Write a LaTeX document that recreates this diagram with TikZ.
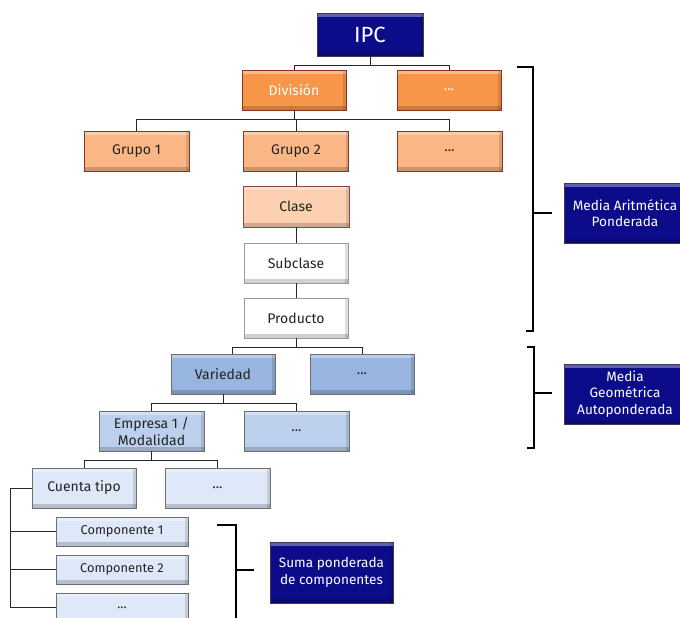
\documentclass[tikz,border=0pt]{standalone}
\usepackage{fontspec}
\setmainfont{Fira Sans}
\definecolor{navyc}{RGB}{12,12,138}
\definecolor{navyb}{RGB}{60,60,80}
\definecolor{orA}{RGB}{247,150,72}
\definecolor{orB}{RGB}{250,182,132}
\definecolor{orC}{RGB}{252,208,176}
\definecolor{orD}{RGB}{140,50,35}
\definecolor{blA}{RGB}{151,181,222}
\definecolor{blB}{RGB}{188,208,238}
\definecolor{blC}{RGB}{222,232,248}
\definecolor{grb}{RGB}{110,110,110}
\definecolor{txt}{RGB}{35,35,35}
\tikzset{
  bevel/.style={path picture={
    \fill[white,opacity=0.35] (path picture bounding box.north west) rectangle ([yshift=-4pt]path picture bounding box.north east);
    \fill[black,opacity=0.18] ([yshift=4pt]path picture bounding box.south west) rectangle (path picture bounding box.south east);
    \fill[black,opacity=0.12] (path picture bounding box.south east) rectangle ([xshift=-3pt]path picture bounding box.north east);
  }},
  box/.style={rectangle, minimum width=104pt, minimum height=40pt, inner sep=2pt, align=center,
    font=\fontsize{14}{16}\selectfont, text=txt, line width=0.8pt, bevel},
  navybox/.style={box, fill=navyc, draw=navyb, text=white},
  orbox/.style={box, fill=orA, draw=orD, text=white},
  orbbox/.style={box, fill=orB, draw=orD},
  orcbox/.style={box, fill=orC, draw=orD!70!gray},
  whbox/.style={box, fill=white, draw=grb!70},
  blabox/.style={box, fill=blA, draw=grb},
  blbbox/.style={box, fill=blB, draw=grb},
  blcbox/.style={box, fill=blC, draw=grb},
  compbox/.style={blcbox, minimum width=132pt, minimum height=29pt, font=\fontsize{12.8}{14}\selectfont},
  sidebox/.style={navybox, minimum width=122pt, minimum height=60pt, font=\fontsize{13.6}{16.5}\selectfont},
  conn/.style={draw=black!85, line width=0.9pt},
  brack/.style={draw=black, line width=1.4pt},
}
\begin{document}
\begin{tikzpicture}[x=1pt,y=-1pt]
\useasboundingbox (0,0) rectangle (680,618);
\clip (0,0) rectangle (680,618);
% nodes
\node[navybox, minimum width=106pt, minimum height=43pt, font=\fontsize{22}{24}\selectfont] (ipc) at (370,34.5) {IPC};
\node[orbox] (div) at (294,90) {División};
\node[orbox] (d1) at (449,90) {...};
\node[orbbox, minimum width=105pt] (g1) at (136.5,151) {Grupo 1};
\node[orbbox, minimum width=105pt] (g2) at (296,151) {Grupo 2};
\node[orbbox, minimum width=105pt] (g3) at (449.5,151) {...};
\node[orcbox, minimum width=106pt, minimum height=41pt] (clase) at (296,206.5) {Clase};
\node[whbox] (sub) at (296,263) {Subclase};
\node[whbox] (prod) at (296,318) {Producto};
\node[blabox] (var) at (223,374) {Variedad};
\node[blabox] (v2) at (362,374) {...};
\node[blbbox, minimum width=105pt, font=\fontsize{14}{17}\selectfont] (emp) at (151.5,431) {Empresa 1 /\\Modalidad};
\node[blbbox, minimum width=105pt] (e2) at (296.5,431) {...};
\node[blcbox] (cta) at (84,488) {Cuenta tipo};
\node[blcbox, minimum width=105pt] (c2) at (217.5,488) {...};
\node[compbox] (comp1) at (122,531.5) {Componente 1};
\node[compbox] (comp2) at (122,569.5) {Componente 2};
\node[compbox] (comp3) at (122,607.5) {...};
\node[sidebox] (mar) at (625,213) {Media Aritmética\\Ponderada};
\node[sidebox] (mga) at (625,394) {Media\\Geométrica\\Autoponderada};
\node[sidebox, minimum width=123pt, minimum height=61pt] (suma) at (331.5,572.5) {Suma ponderada\\de componentes};
% connectors
\draw[conn] (ipc.south) -- ++(0,9) -| (div.north);
\draw[conn] (ipc.south) -- ++(0,9) -| (d1.north);
\draw[conn] (div.south) -- ++(0,9) -| (g1.north);
\draw[conn] (div.south) -- ++(0,9) -| (g3.north);
\draw[conn] (div.south) -- ++(0,9) -| (g2.north);
\draw[conn] (g2.south) -- (clase.north);
\draw[conn] (clase.south) -- (sub.north);
\draw[conn] (sub.south) -- (prod.north);
\draw[conn] (prod.south) -- ++(0,9) -| ([xshift=9pt]var.north);
\draw[conn] (prod.south) -- ++(0,9) -| (v2.north);
\draw[conn] (var.south) -- ++(0,9) -| (emp.north);
\draw[conn] (var.south) -- ++(0,9) -| (e2.north);
\draw[conn] (emp.south) -- ++(0,9) -| (cta.north);
\draw[conn] (emp.south) -- ++(0,9) -| (c2.north);
\coordinate (lv) at (10,488);
\draw[conn] (cta.west) -- (lv) |- (comp3.west);
\draw[conn] (lv |- comp1.west) -- (comp1.west);
\draw[conn] (lv |- comp2.west) -- (comp2.west);
% brackets
\coordinate (b1) at (533,213);
\draw[brack] (517,67) -- (533,67) -- (533,331) -- (526,331);
\draw[brack] (b1) -- ++(19,0);
\coordinate (b2) at (534,393);
\draw[brack] (527,347) -- (534,347) -- (534,448) -- (527,448);
\draw[brack] (b2) -- ++(18,0);
\coordinate (b3) at (236,570);
\draw[brack] (217,525) -- (236,525) -- (236,625);
\draw[brack] (b3) -- ++(18,0);
\end{tikzpicture}
\end{document}
